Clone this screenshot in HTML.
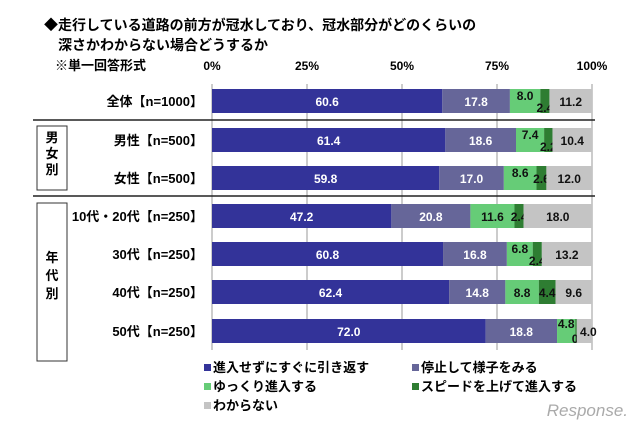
<!DOCTYPE html>
<html><head><meta charset="utf-8"><style>
body{margin:0;background:#fff;width:640px;height:426px;overflow:hidden;font-family:"Liberation Sans","Noto Sans CJK JP",sans-serif}
</style></head><body>
<svg id="c" width="640" height="426" xmlns="http://www.w3.org/2000/svg" font-family="Liberation Sans, Noto Sans CJK JP, sans-serif">
<text x="44" y="30" font-size="14" font-weight="bold">◆走行している道路の前方が冠水しており、冠水部分がどのくらいの</text>
<text x="58" y="50" font-size="14" font-weight="bold">深さかわからない場合どうするか</text>
<text x="55" y="70" font-size="13" font-weight="bold">※単一回答形式</text>
<g id="grid"></g><g id="bars"></g><g id="labels"></g>
<line x1="33" y1="120" x2="595" y2="120" stroke="#222" stroke-width="1.5"/>
<line x1="33" y1="196" x2="595" y2="196" stroke="#222" stroke-width="1.5"/>
<rect x="37" y="126" width="30" height="64" fill="none" stroke="#333"/>
<text x="52" y="142" font-size="13" font-weight="bold" text-anchor="middle"><tspan x="52">男</tspan><tspan x="52" dy="16">女</tspan><tspan x="52" dy="16">別</tspan></text>
<rect x="37" y="203" width="30" height="158" fill="none" stroke="#333"/>
<text x="52" y="262" font-size="13" font-weight="bold" text-anchor="middle"><tspan x="52">年</tspan><tspan x="52" dy="18">代</tspan><tspan x="52" dy="18">別</tspan></text>
<g id="legend"></g>
<text x="628" y="416" font-size="17" font-style="italic" fill="#aaa" text-anchor="end">Response.</text>
</svg>
<script>
const categories=["全体【n=1000】","男性【n=500】","女性【n=500】","10代・20代【n=250】","30代【n=250】","40代【n=250】","50代【n=250】"];
const seriesNames=["進入せずにすぐに引き返す","停止して様子をみる","ゆっくり進入する","スピードを上げて進入する","わからない"];
const s1=[60.6,61.4,59.8,47.2,60.8,62.4,72.0];
const s2=[17.8,18.6,17.0,20.8,16.8,14.8,18.8];
const s3=[8.0,7.4,8.6,11.6,6.8,8.8,4.8];
const s4=[2.4,2.2,2.6,2.4,2.4,4.4,0.4];
const s5=[11.2,10.4,12.0,18.0,13.2,9.6,4.0];
const ticks=["0%","25%","50%","75%","100%"];
const tickVals=[0,25,50,75,100];
const colors=["#333399","#666699","#66cc77","#2e7d32","#c4c4c4"];
const rowY=[101,140,178,216,254,292,331];
const NS="http://www.w3.org/2000/svg";
const K=3.8;
const x=v=>212+v*K;
function mk(p,t,a){const e=document.createElementNS(NS,t);for(const k in a)e.setAttribute(k,a[k]);p.appendChild(e);return e;}
const G=document.getElementById('grid'),B=document.getElementById('bars'),L=document.getElementById('labels'),Lg=document.getElementById('legend');
tickVals.forEach((v,i)=>{
 const l=mk(G,'line',{x1:x(v),x2:x(v),y1:84,y2:350,stroke:'#999'});
 
 
 const t=mk(G,'text',{x:x(v),y:70,'font-size':12,'font-weight':'bold','text-anchor':'middle'});t.textContent=ticks[i];
 
 
});
const series=[s1,s2,s3,s4,s5];
categories.forEach((c,i)=>{
 const t=mk(L,'text',{x:203,y:rowY[i]+5,'font-size':13,'font-weight':'bold','text-anchor':'end'});t.textContent=c;
 
 
 let acc=0;
 series.forEach((s,j)=>{
  const v=s[i];
  const r=mk(B,'rect',{x:x(acc),y:rowY[i]-12,width:v*K,height:24,fill:colors[j]});
  
  
  let cx=x(acc+v/2),cy=rowY[i]+5;
  if(j==2&&v<9&&s4[i]<3){cy=rowY[i]-1;}
  if(j==3&&v<3){cy=rowY[i]+(s3[i]<8.5?11:5);}
  if(j==2&&i==6){cy=rowY[i]-3;}
  if(j==3&&i==6){cy=rowY[i]+12;cx+=4;}
  if(j==4&&i==6){cx+=4;}
  const tl=mk(B,'text',{x:cx,y:cy,'font-size':12,'font-weight':'bold','text-anchor':'middle',fill:j<2?'#fff':'#111'});
  tl.textContent=v.toFixed(1);
  
  
  acc+=v;
 });
});
const lp=[[204,372],[412,372],[204,391],[412,391],[204,410]];
seriesNames.forEach((n,j)=>{
 const g=mk(Lg,'g',{});
 
 
 mk(g,'rect',{x:lp[j][0],y:lp[j][1]-8,width:7,height:7,fill:colors[j]});
 const t=mk(g,'text',{x:lp[j][0]+9,y:lp[j][1],'font-size':13,'font-weight':'bold'});t.textContent=n;
});
</script>
</body></html>
